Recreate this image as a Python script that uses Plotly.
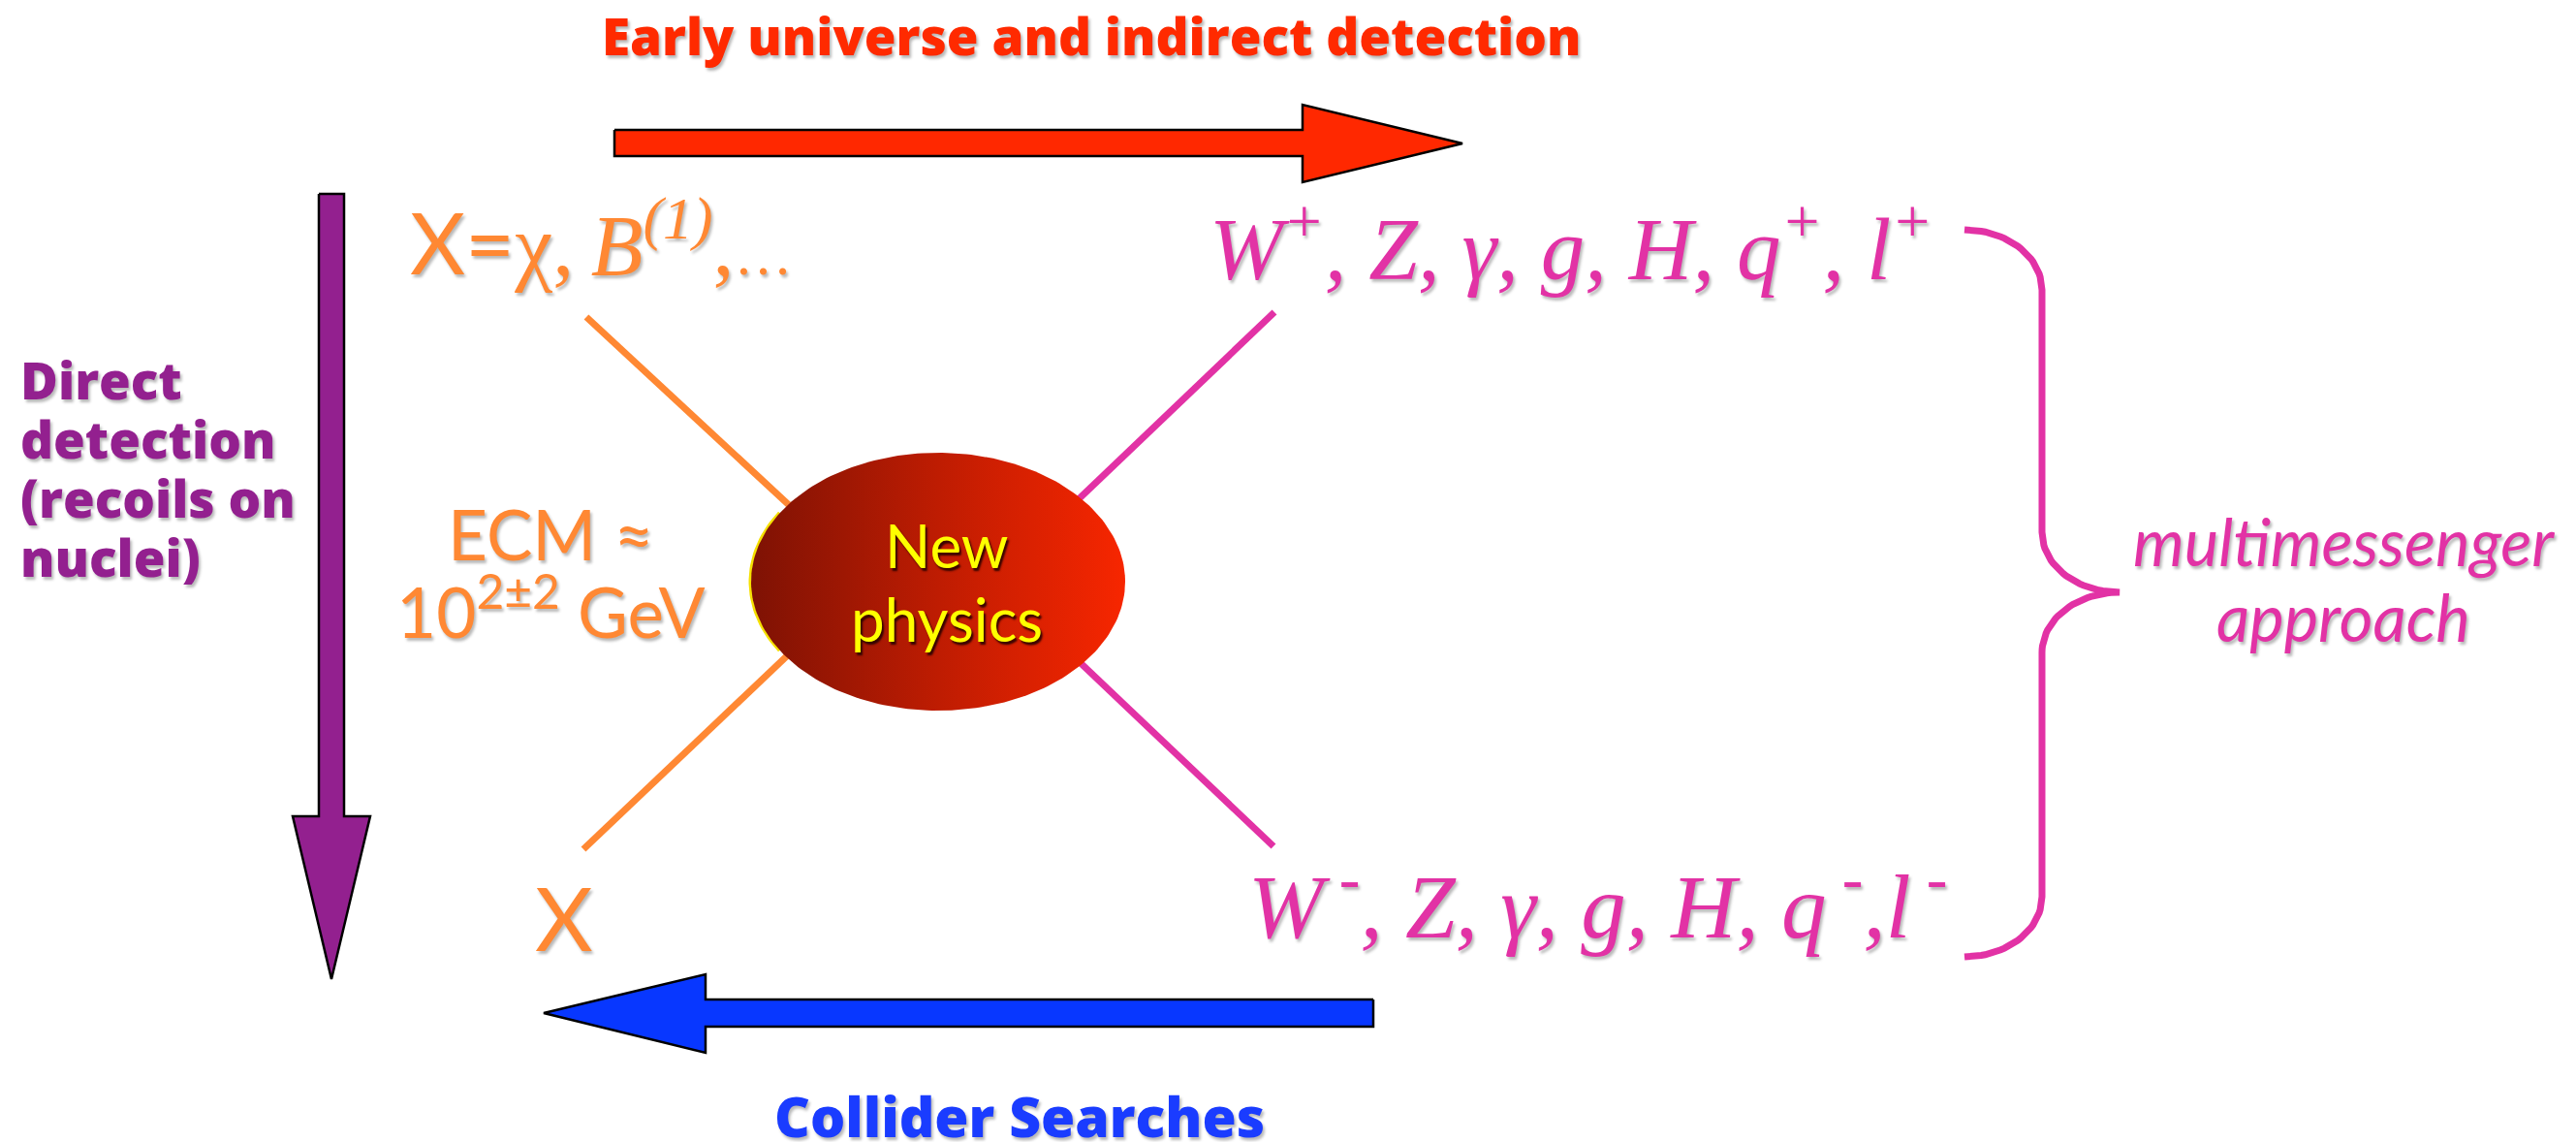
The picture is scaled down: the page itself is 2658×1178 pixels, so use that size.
import numpy as np
import plotly.graph_objects as go

W, H = 2658, 1178
PAGE_MARGIN = 8  # default body margin of the html page

# ---- diagram geometry (page pixels, y downward) ----
red_arrow_x = [634, 1344, 1344, 1509, 1344, 1344, 634, 634]
red_arrow_y = [134, 134, 108, 148, 188, 161, 161, 134]
blue_arrow_x = [1417, 728, 728, 561, 728, 728, 1417, 1417]
blue_arrow_y = [1031, 1031, 1005, 1045, 1086, 1059, 1059, 1031]
purple_arrow_x = [329, 329, 302, 342, 382, 355, 355, 329]
purple_arrow_y = [200, 842, 842, 1010, 842, 842, 200, 200]

orange_lines = [((605, 840), (327, 545)), ((602, 840), (876, 650))]
magenta_lines = [((1315, 1095), (322, 532)), ((1314, 1095), (873, 665))]

blob_center = (968, 600)
blob_radius = (193, 133)

brace_stem_x, brace_end_x, brace_tip_x = 2107, 2027, 2187
brace_top, brace_mid, brace_bottom = 237, 611, 987

# ---- text ----
title_top = "Early universe and indirect detection"
title_bottom = "Collider Searches"
left_lines = ["Direct", "detection", "(recoils on", "nuclei)"]
left_line_y = [391, 452, 513, 574]
ecm_lines = ["ECM ≈", "10<sup>2±2</sup> GeV"]
ecm_line_y = [550, 626]
blob_lines = ["New", "physics"]
blob_line_y = [562, 638]
mm_lines = ["multimessenger", "approach"]
mm_line_y = [558, 636]
upper_left = ("X=<span style='font-family:Liberation Serif'>χ,\u2009<i>B<sup>(1)</sup></i>,"
              "<span style='font-size:60px'>…</span></span>")
upper_right = "<i>W<sup>+</sup>, Z, γ, g, H, q<sup>+</sup>, l<sup>+</sup></i>"
lower_right = "<i>W<sup> -</sup>, Z, γ, g, H, q<sup> -</sup>,l<sup> -</sup></i>"
lower_left = "X"

RED = "#FF2A00"
BLUE = "#1A3CFF"
PURPLE = "#93208F"
ORANGE = "#FF8833"
MAGENTA = "#E232A5"
SANS = "Lato"
HEAVY = "Open Sans"
SERIF = "Liberation Serif"
SH = "2px 3px 3px rgba(0,0,0,0.28)"

fig = go.Figure()

def poly(xs, ys, color):
    fig.add_trace(go.Scatter(x=xs, y=ys, mode="lines", fill="toself", fillcolor=color,
                             line=dict(color="black", width=2.5), hoverinfo="skip", showlegend=False))

for (xs, ys), col in [(lo, ORANGE) for lo in orange_lines] + [(lo, MAGENTA) for lo in magenta_lines]:
    fig.add_trace(go.Scatter(x=list(xs), y=list(ys), mode="lines", line=dict(color=col, width=7),
                             hoverinfo="skip", showlegend=False))

# thin yellow rim on the left of the blob
ta = np.linspace(np.pi * 0.82, np.pi * 1.18, 40)
fig.add_trace(go.Scatter(x=blob_center[0] + (blob_radius[0] + 1) * np.cos(ta),
                         y=blob_center[1] + blob_radius[1] * np.sin(ta), mode="lines",
                         line=dict(color="#F5E000", width=3), hoverinfo="skip", showlegend=False))

# New physics ellipse with horizontal gradient
t = np.linspace(0, 2 * np.pi, 240)
ex = blob_center[0] + blob_radius[0] * np.cos(t)
ey = blob_center[1] + blob_radius[1] * np.sin(t)
fig.add_trace(go.Scatter(x=ex, y=ey, mode="lines", fill="toself",
                         fillgradient=dict(type="horizontal",
                                           colorscale=[[0, "#7E1204"], [0.5, "#BE1C02"], [1, "#F72600"]]),
                         line=dict(width=0), hoverinfo="skip", showlegend=False))

poly(red_arrow_x, red_arrow_y, "#FF2800")
poly(blue_arrow_x, blue_arrow_y, "#0837FF")
poly(purple_arrow_x, purple_arrow_y, "#93208F")

# curly brace
def arc(cx, cy, rx, ry, a0, a1, n=30):
    a = np.linspace(a0, a1, n)
    return list(cx + rx * np.cos(a)), list(cy + ry * np.sin(a))

rx = brace_stem_x - brace_end_x
r2 = brace_tip_x - brace_stem_x
bx, by = [], []
for seg in [(brace_end_x, brace_top + 62, rx, 62, -np.pi / 2, 0),
            (brace_tip_x, brace_mid - 62, r2, 62, np.pi, np.pi / 2),
            (brace_tip_x, brace_mid + 62, r2, 62, -np.pi / 2, -np.pi),
            (brace_end_x, brace_bottom - 62, rx, 62, 0, np.pi / 2)]:
    x1, y1 = arc(*seg)
    bx += x1; by += y1
fig.add_trace(go.Scatter(x=bx, y=by, mode="lines", line=dict(color=MAGENTA, width=7),
                         hoverinfo="skip", showlegend=False))

ann = []
def A(text, x, y, size, color, family=SANS, weight="normal", style="normal", xanchor="center", shadow=SH):
    ann.append(dict(text=text, x=x, y=y, xref="x", yref="y", showarrow=False,
                    xanchor=xanchor, yanchor="middle",
                    font=dict(family=family, size=size, color=color, weight=weight, style=style, shadow=shadow)))

A(title_top, 1126, 36, 53, RED, family=HEAVY, weight=800)
A(title_bottom, 1052, 1151, 57, BLUE, family=HEAVY, weight=800)
for s, y in zip(left_lines, left_line_y):
    A(s, 19, y, 53, PURPLE, family=HEAVY, weight=800, xanchor="left")
for s, y in zip(ecm_lines, ecm_line_y):
    A(s, 568, y, 71, ORANGE)
for s, y in zip(blob_lines, blob_line_y):
    A(s, 977, y, 62, "#FFFF00", shadow="2px 3px 2px rgba(40,0,0,0.9)")
for s, y in zip(mm_lines, mm_line_y):
    A(s, 2418, y, 67, MAGENTA, style="italic")
A(upper_left, 421, 246, 88, ORANGE, xanchor="left")
A(upper_right, 1246, 250, 91, MAGENTA, family=SERIF, xanchor="left")
A(lower_right, 1286, 928, 93, MAGENTA, family=SERIF, xanchor="left")
A(lower_left, 582, 945, 92, ORANGE)

fig.update_layout(
    width=W - PAGE_MARGIN, height=H - PAGE_MARGIN, margin=dict(l=0, r=0, t=0, b=0),
    paper_bgcolor="white", plot_bgcolor="white",
    xaxis=dict(range=[PAGE_MARGIN, W], visible=False, fixedrange=True),
    yaxis=dict(range=[H, PAGE_MARGIN], visible=False, fixedrange=True),
    annotations=ann, showlegend=False,
)
fig.write_html("out.html")
